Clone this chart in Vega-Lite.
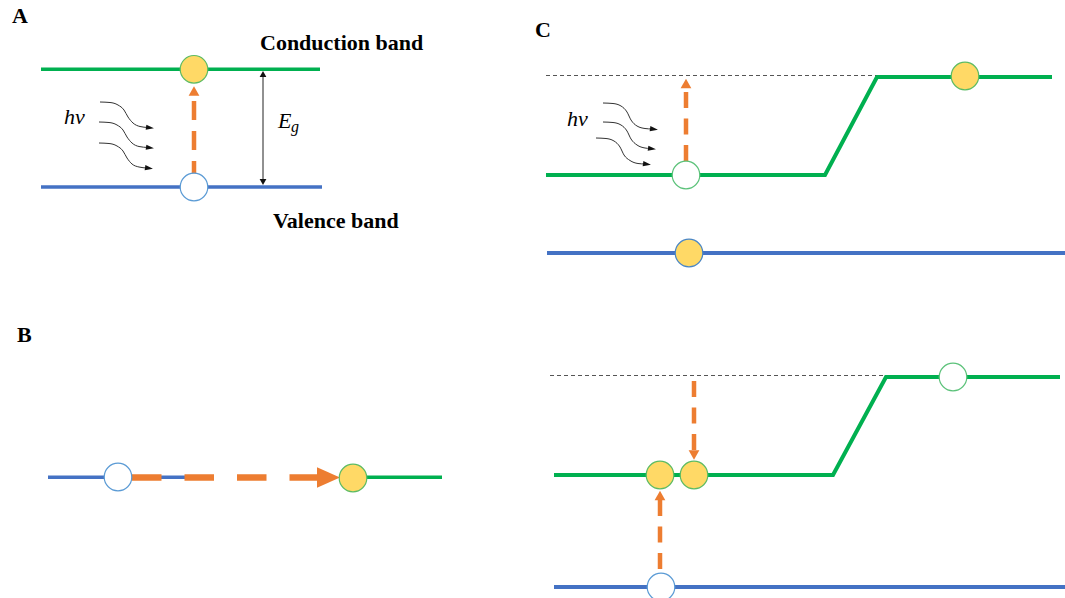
{
  "$schema": "https://vega.github.io/schema/vega-lite/v6.json",
  "width": 1065,
  "height": 598,
  "autosize": {"type": "none"},
  "padding": 0,
  "background": "white",
  "config": {"view": {"stroke": null}},
  "datasets": {
    "bands": [
      {"id": "A-cb", "kind": "gA", "seq": 1, "x": 41, "y": 69.3},
      {"id": "A-cb", "kind": "gA", "seq": 2, "x": 320, "y": 69.3},
      {"id": "A-vb", "kind": "bA", "seq": 1, "x": 41, "y": 187},
      {"id": "A-vb", "kind": "bA", "seq": 2, "x": 322, "y": 187},
      {"id": "B-vb", "kind": "bB", "seq": 1, "x": 48, "y": 477.3},
      {"id": "B-vb", "kind": "bB", "seq": 2, "x": 205, "y": 477.3},
      {"id": "B-cb", "kind": "gB", "seq": 1, "x": 340, "y": 477.3},
      {"id": "B-cb", "kind": "gB", "seq": 2, "x": 442, "y": 477.3},
      {"id": "C1-cb", "kind": "gC", "seq": 1, "x": 546, "y": 175},
      {"id": "C1-cb", "kind": "gC", "seq": 2, "x": 825, "y": 175},
      {"id": "C1-cb", "kind": "gC", "seq": 3, "x": 877, "y": 77},
      {"id": "C1-cb", "kind": "gC", "seq": 4, "x": 1052, "y": 77},
      {"id": "C1-vb", "kind": "bC", "seq": 1, "x": 547, "y": 253},
      {"id": "C1-vb", "kind": "bC", "seq": 2, "x": 1065, "y": 253},
      {"id": "C2-cb", "kind": "gC", "seq": 1, "x": 554, "y": 475},
      {"id": "C2-cb", "kind": "gC", "seq": 2, "x": 833, "y": 475},
      {"id": "C2-cb", "kind": "gC", "seq": 3, "x": 886, "y": 377},
      {"id": "C2-cb", "kind": "gC", "seq": 4, "x": 1060, "y": 377},
      {"id": "C2-vb", "kind": "bC", "seq": 1, "x": 554, "y": 587},
      {"id": "C2-vb", "kind": "bC", "seq": 2, "x": 1065, "y": 587}
    ],
    "segs": [
      {"kind": "gray", "x": 546, "y": 75.5, "x2": 876, "y2": 75.5},
      {"kind": "gray", "x": 550, "y": 375.5, "x2": 884, "y2": 375.5},
      {"kind": "gap", "x": 263, "y": 73, "x2": 263, "y2": 183},
      {"kind": "orangeA", "x": 194, "y": 101, "x2": 194, "y2": 176},
      {"kind": "orangeC", "x": 686, "y": 92, "x2": 686, "y2": 163},
      {"kind": "orangeC", "x": 694, "y": 381, "x2": 694, "y2": 451},
      {"kind": "orangeC", "x": 660, "y": 500, "x2": 660, "y2": 575},
      {"kind": "orangeB", "x": 132, "y": 477.5, "x2": 319, "y2": 477.5}
    ],
    "curves": [
      {"id": "a1", "seq": 1, "x": 100, "y": 102},
      {"id": "a1", "seq": 2, "x": 110, "y": 102.5},
      {"id": "a1", "seq": 3, "x": 118, "y": 105},
      {"id": "a1", "seq": 4, "x": 124, "y": 110},
      {"id": "a1", "seq": 5, "x": 128, "y": 117},
      {"id": "a1", "seq": 6, "x": 133, "y": 123},
      {"id": "a1", "seq": 7, "x": 140, "y": 126.5},
      {"id": "a1", "seq": 8, "x": 148, "y": 127.5},
      {"id": "a2", "seq": 1, "x": 99, "y": 122},
      {"id": "a2", "seq": 2, "x": 109, "y": 122.5},
      {"id": "a2", "seq": 3, "x": 117, "y": 125},
      {"id": "a2", "seq": 4, "x": 123, "y": 130},
      {"id": "a2", "seq": 5, "x": 127, "y": 137},
      {"id": "a2", "seq": 6, "x": 132, "y": 143},
      {"id": "a2", "seq": 7, "x": 139, "y": 146.5},
      {"id": "a2", "seq": 8, "x": 148, "y": 147.5},
      {"id": "a3", "seq": 1, "x": 99, "y": 143},
      {"id": "a3", "seq": 2, "x": 109, "y": 143.5},
      {"id": "a3", "seq": 3, "x": 117, "y": 146},
      {"id": "a3", "seq": 4, "x": 123, "y": 151},
      {"id": "a3", "seq": 5, "x": 127, "y": 158},
      {"id": "a3", "seq": 6, "x": 132, "y": 164},
      {"id": "a3", "seq": 7, "x": 139, "y": 167},
      {"id": "a3", "seq": 8, "x": 147, "y": 168},
      {"id": "c1", "seq": 1, "x": 603, "y": 103},
      {"id": "c1", "seq": 2, "x": 613, "y": 103.5},
      {"id": "c1", "seq": 3, "x": 621, "y": 106},
      {"id": "c1", "seq": 4, "x": 627, "y": 112},
      {"id": "c1", "seq": 5, "x": 631, "y": 120},
      {"id": "c1", "seq": 6, "x": 637, "y": 126},
      {"id": "c1", "seq": 7, "x": 645, "y": 128.5},
      {"id": "c1", "seq": 8, "x": 652, "y": 129},
      {"id": "c2", "seq": 1, "x": 603, "y": 122},
      {"id": "c2", "seq": 2, "x": 613, "y": 122.5},
      {"id": "c2", "seq": 3, "x": 621, "y": 125},
      {"id": "c2", "seq": 4, "x": 627, "y": 131},
      {"id": "c2", "seq": 5, "x": 631, "y": 139},
      {"id": "c2", "seq": 6, "x": 637, "y": 145},
      {"id": "c2", "seq": 7, "x": 645, "y": 148},
      {"id": "c2", "seq": 8, "x": 650, "y": 148.5},
      {"id": "c3", "seq": 1, "x": 596, "y": 138},
      {"id": "c3", "seq": 2, "x": 606, "y": 138.5},
      {"id": "c3", "seq": 3, "x": 614, "y": 141},
      {"id": "c3", "seq": 4, "x": 620, "y": 147},
      {"id": "c3", "seq": 5, "x": 624, "y": 155},
      {"id": "c3", "seq": 6, "x": 630, "y": 160.5},
      {"id": "c3", "seq": 7, "x": 638, "y": 163.5},
      {"id": "c3", "seq": 8, "x": 645, "y": 164}
    ],
    "heads": [
      {"kind": "orangeUp", "x": 194, "y": 91},
      {"kind": "orangeUp", "x": 686, "y": 83.5},
      {"kind": "orangeUp", "x": 660, "y": 495.5},
      {"kind": "orangeDown", "x": 694, "y": 455},
      {"kind": "orangeRight", "x": 328.5, "y": 477.5},
      {"kind": "blackUp", "x": 263, "y": 74},
      {"kind": "blackDown", "x": 263, "y": 182},
      {"kind": "wave", "x": 150, "y": 127.8},
      {"kind": "wave", "x": 150, "y": 147.8},
      {"kind": "wave", "x": 149, "y": 168.2},
      {"kind": "wave", "x": 654, "y": 129.2},
      {"kind": "wave", "x": 652, "y": 148.8},
      {"kind": "wave", "x": 647, "y": 164.2}
    ],
    "dots": [
      {"kind": "electronG", "x": 194, "y": 69.3},
      {"kind": "electronG", "x": 353, "y": 478},
      {"kind": "electronG", "x": 965, "y": 76},
      {"kind": "electronG", "x": 660, "y": 475},
      {"kind": "electronG", "x": 694, "y": 475},
      {"kind": "electronB", "x": 689, "y": 253},
      {"kind": "holeB", "x": 194, "y": 187},
      {"kind": "holeB", "x": 118, "y": 477},
      {"kind": "holeB", "x": 661, "y": 587},
      {"kind": "holeG", "x": 686, "y": 175},
      {"kind": "holeG", "x": 953, "y": 377}
    ],
    "labels": [
      {"kind": "bold", "label": "A", "x": 12, "y": 23},
      {"kind": "bold", "label": "B", "x": 17, "y": 342},
      {"kind": "bold", "label": "C", "x": 535, "y": 37},
      {"kind": "bold", "label": "Conduction band", "x": 260, "y": 50},
      {"kind": "bold", "label": "Valence band", "x": 273, "y": 228},
      {"kind": "italic", "label": "hν", "x": 64, "y": 124},
      {"kind": "italic", "label": "hν", "x": 567, "y": 126},
      {"kind": "italic", "label": "E", "x": 278, "y": 128},
      {"kind": "sub", "label": "g", "x": 291, "y": 132}
    ]
  },
  "encoding": {
    "x": {"field": "x", "type": "quantitative", "scale": {"domain": [0, 1065], "nice": false, "zero": false}, "axis": null},
    "y": {"field": "y", "type": "quantitative", "scale": {"domain": [0, 598], "nice": false, "zero": false, "reverse": true}, "axis": null}
  },
  "layer": [
    {"data": {"name": "bands"}, "transform": [{"filter": "datum.kind == 'gA' || datum.kind == 'gB'"}],
     "mark": {"type": "line", "color": "#00B050", "strokeWidth": 3.5, "strokeJoin": "miter"},
     "encoding": {"detail": {"field": "id"}, "order": {"field": "seq"}}},
    {"data": {"name": "bands"}, "transform": [{"filter": "datum.kind == 'bA' || datum.kind == 'bB'"}],
     "mark": {"type": "line", "color": "#4472C4", "strokeWidth": 3.5},
     "encoding": {"detail": {"field": "id"}, "order": {"field": "seq"}}},
    {"data": {"name": "bands"}, "transform": [{"filter": "datum.kind == 'gC'"}],
     "mark": {"type": "line", "color": "#00B050", "strokeWidth": 4, "strokeJoin": "miter"},
     "encoding": {"detail": {"field": "id"}, "order": {"field": "seq"}}},
    {"data": {"name": "bands"}, "transform": [{"filter": "datum.kind == 'bC'"}],
     "mark": {"type": "line", "color": "#4472C4", "strokeWidth": 4},
     "encoding": {"detail": {"field": "id"}, "order": {"field": "seq"}}},
    {"data": {"name": "segs"}, "transform": [{"filter": "datum.kind == 'gray'"}],
     "mark": {"type": "rule", "color": "#555555", "strokeWidth": 1, "strokeDash": [4, 3]},
     "encoding": {"x2": {"field": "x2"}, "y2": {"field": "y2"}}},
    {"data": {"name": "segs"}, "transform": [{"filter": "datum.kind == 'gap'"}],
     "mark": {"type": "rule", "color": "#222222", "strokeWidth": 1},
     "encoding": {"x2": {"field": "x2"}, "y2": {"field": "y2"}}},
    {"data": {"name": "segs"}, "transform": [{"filter": "datum.kind == 'orangeA'"}],
     "mark": {"type": "rule", "color": "#ED7D31", "strokeWidth": 4.5, "strokeDash": [19, 11]},
     "encoding": {"x2": {"field": "x2"}, "y2": {"field": "y2"}}},
    {"data": {"name": "segs"}, "transform": [{"filter": "datum.kind == 'orangeC'"}],
     "mark": {"type": "rule", "color": "#ED7D31", "strokeWidth": 4.5, "strokeDash": [16, 10.5]},
     "encoding": {"x2": {"field": "x2"}, "y2": {"field": "y2"}}},
    {"data": {"name": "segs"}, "transform": [{"filter": "datum.kind == 'orangeB'"}],
     "mark": {"type": "rule", "color": "#ED7D31", "strokeWidth": 6.5, "strokeDash": [29.5, 23]},
     "encoding": {"x2": {"field": "x2"}, "y2": {"field": "y2"}}},
    {"data": {"name": "curves"},
     "mark": {"type": "line", "color": "#333333", "strokeWidth": 1, "interpolate": "monotone"},
     "encoding": {"detail": {"field": "id"}, "order": {"field": "seq"}}},
    {"data": {"name": "heads"}, "transform": [{"filter": "datum.kind == 'orangeUp'"}],
     "mark": {"type": "point", "shape": "triangle-up", "filled": true, "color": "#ED7D31", "size": 115, "opacity": 1}},
    {"data": {"name": "heads"}, "transform": [{"filter": "datum.kind == 'orangeDown'"}],
     "mark": {"type": "point", "shape": "triangle-down", "filled": true, "color": "#ED7D31", "size": 115, "opacity": 1}},
    {"data": {"name": "heads"}, "transform": [{"filter": "datum.kind == 'orangeRight'"}],
     "mark": {"type": "point", "shape": "M-1,-0.9L1,0L-1,0.9Z", "filled": true, "color": "#ED7D31", "size": 529, "opacity": 1}},
    {"data": {"name": "heads"}, "transform": [{"filter": "datum.kind == 'blackUp'"}],
     "mark": {"type": "point", "shape": "triangle-up", "filled": true, "color": "#111111", "size": 45, "opacity": 1}},
    {"data": {"name": "heads"}, "transform": [{"filter": "datum.kind == 'blackDown'"}],
     "mark": {"type": "point", "shape": "triangle-down", "filled": true, "color": "#111111", "size": 45, "opacity": 1}},
    {"data": {"name": "heads"}, "transform": [{"filter": "datum.kind == 'wave'"}],
     "mark": {"type": "point", "shape": "M-1,-0.65L1,0L-1,0.65Z", "filled": true, "color": "#111111", "size": 64, "angle": 8, "opacity": 1}},
    {"data": {"name": "dots"}, "transform": [{"filter": "datum.kind == 'electronG'"}],
     "mark": {"type": "point", "shape": "circle", "filled": true, "fill": "#FFD966", "stroke": "#5DBB63", "strokeWidth": 1.2, "size": 760, "opacity": 1}},
    {"data": {"name": "dots"}, "transform": [{"filter": "datum.kind == 'electronB'"}],
     "mark": {"type": "point", "shape": "circle", "filled": true, "fill": "#FFD966", "stroke": "#4A86C5", "strokeWidth": 1.2, "size": 760, "opacity": 1}},
    {"data": {"name": "dots"}, "transform": [{"filter": "datum.kind == 'holeB'"}],
     "mark": {"type": "point", "shape": "circle", "filled": true, "fill": "#FFFFFF", "stroke": "#5B9BD5", "strokeWidth": 1.2, "size": 760, "opacity": 1}},
    {"data": {"name": "dots"}, "transform": [{"filter": "datum.kind == 'holeG'"}],
     "mark": {"type": "point", "shape": "circle", "filled": true, "fill": "#FFFFFF", "stroke": "#5CC27A", "strokeWidth": 1.2, "size": 760, "opacity": 1}},
    {"data": {"name": "labels"}, "transform": [{"filter": "datum.kind == 'bold'"}],
     "mark": {"type": "text", "font": "Liberation Serif", "fontWeight": "bold", "fontSize": 22, "align": "left", "baseline": "alphabetic", "color": "#000000"},
     "encoding": {"text": {"field": "label"}}},
    {"data": {"name": "labels"}, "transform": [{"filter": "datum.kind == 'italic'"}],
     "mark": {"type": "text", "font": "Liberation Serif", "fontStyle": "italic", "fontSize": 22, "align": "left", "baseline": "alphabetic", "color": "#000000"},
     "encoding": {"text": {"field": "label"}}},
    {"data": {"name": "labels"}, "transform": [{"filter": "datum.kind == 'sub'"}],
     "mark": {"type": "text", "font": "Liberation Serif", "fontStyle": "italic", "fontSize": 16, "align": "left", "baseline": "alphabetic", "color": "#000000"},
     "encoding": {"text": {"field": "label"}}}
  ]
}
